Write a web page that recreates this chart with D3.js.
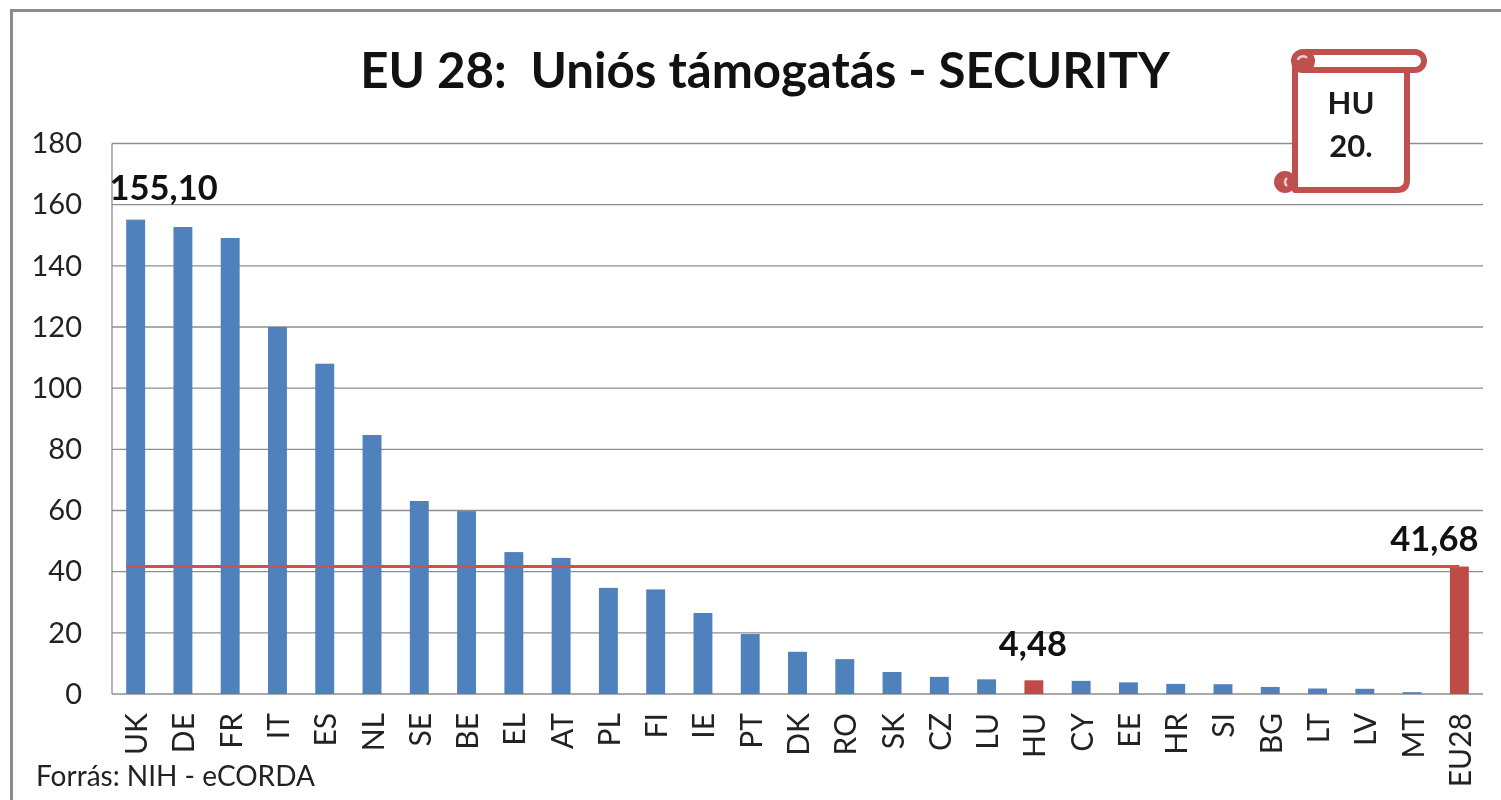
<!DOCTYPE html>
<html>
<head>
<meta charset="utf-8">
<script src="https://cdn.jsdelivr.net/npm/d3@7"></script>
<style>
body { margin: 0; background: #fff; }
svg { display: block; font-family: Lato, "Open Sans", sans-serif; filter: blur(0.5px); }
.grid line { stroke: #8e8e8e; stroke-width: 1.3; }
.axis path, .axis line { display: none; }
</style>
</head>
<body>
<script>
"use strict";

const categories = ["UK", "DE", "FR", "IT", "ES", "NL", "SE", "BE", "EL", "AT", "PL", "FI", "IE", "PT", "DK", "RO", "SK", "CZ", "LU", "HU", "CY", "EE", "HR", "SI", "BG", "LT", "LV", "MT", "EU28"];
const values = [155.1, 152.7, 149.1, 120, 108, 84.7, 63.1, 59.8, 46.4, 44.5, 34.7, 34.2, 26.5, 19.6, 13.8, 11.4, 7.2, 5.6, 4.8, 4.48, 4.3, 3.8, 3.3, 3.2, 2.3, 1.8, 1.7, 0.6, 41.68];
const yTicks = [0, 20, 40, 60, 80, 100, 120, 140, 160, 180];
const highlighted = ["HU", "EU28"];
const dataLabels = [["UK", "155,10"], ["HU", "4,48"], ["EU28", "41,68"]];
const average = 41.68;

const width = 1501, height = 800;
const margin = { top: 143.5, right: 18, bottom: 106, left: 112 };
const plotW = width - margin.left - margin.right,
      plotH = height - margin.top - margin.bottom;

const svg = d3.select("body").append("svg")
    .attr("width", width)
    .attr("height", height);

// outer frame
svg.append("path")
    .attr("d", "M11.5,800V10.5H1501")
    .attr("fill", "none")
    .attr("stroke", "#8c8c8c")
    .attr("stroke-width", 3);

// title
svg.append("text")
    .attr("x", 765)
    .attr("y", 88)
    .attr("text-anchor", "middle")
    .attr("font-size", 49.2)
    .attr("font-weight", 700)
    .attr("fill", "#111")
    .attr("xml:space", "preserve")
    .text("EU 28:  Uniós támogatás - SECURITY");

const chart = svg.append("g")
    .attr("transform", `translate(${margin.left}, ${margin.top})`);

let scaleX = d3.scaleBand()
    .domain(categories)
    .range([0, plotW])
    .paddingInner(0.6)
    .paddingOuter(0.3);

let scaleY = d3.scaleLinear()
    .domain([0, 180])
    .range([plotH, 0]);

// grid lines
chart.append("g")
    .attr("class", "grid")
    .selectAll("line")
    .data(yTicks)
    .join("line")
    .attr("x1", 0)
    .attr("x2", plotW)
    .attr("y1", d => scaleY(d))
    .attr("y2", d => scaleY(d));

chart.append("line")
    .attr("y1", 0)
    .attr("y2", plotH)
    .attr("stroke", "#8e8e8e")
    .attr("stroke-width", 1.3);

// y axis
chart.append("g")
    .attr("class", "axis")
    .call(d3.axisLeft(scaleY).tickValues(yTicks).tickSize(0).tickPadding(30))
    .selectAll("text")
    .attr("font-family", "Lato, sans-serif")
    .attr("font-size", 29)
    .attr("fill", "#222");

// x axis
chart.append("g")
    .attr("class", "axis")
    .attr("transform", `translate(0, ${plotH})`)
    .call(d3.axisBottom(scaleX).tickSize(0))
    .selectAll("text")
    .attr("font-family", "Lato, sans-serif")
    .attr("font-size", 30)
    .attr("fill", "#222")
    .attr("text-anchor", "end")
    .attr("dy", 0)
    .attr("transform", "translate(8.5, 19) rotate(-90)");

// bars
chart.selectAll("rect.bar")
    .data(categories)
    .join("rect")
    .attr("class", "bar")
    .attr("x", d => scaleX(d))
    .attr("width", scaleX.bandwidth())
    .attr("y", (d, i) => scaleY(values[i]))
    .attr("height", (d, i) => plotH - scaleY(values[i]))
    .attr("fill", d => highlighted.includes(d) ? "#be4b48" : "#4f81bd");

// average line
let line = d3.line()
    .x(d => d)
    .y(() => scaleY(average));

chart.append("path")
    .attr("d", line([scaleX("UK"), scaleX("EU28") + scaleX.bandwidth() / 2]))
    .attr("fill", "none")
    .attr("stroke", "#d0504f")
    .attr("stroke-width", 3);

// data labels, moved by hand off their bars like in the original
const labelDx = [28, -1, -25],
      labelDy = [20, 24, 16];

chart.selectAll("text.value")
    .data(dataLabels)
    .join("text")
    .attr("class", "value")
    .attr("x", (d, i) => scaleX(d[0]) + scaleX.bandwidth() / 2 + labelDx[i])
    .attr("y", (d, i) => scaleY(values[categories.indexOf(d[0])]) - labelDy[i])
    .attr("text-anchor", "middle")
    .attr("font-size", 34.5)
    .attr("font-weight", 700)
    .attr("fill", "#111")
    .text(d => d[1]);

// scroll shape with the rank of HU
const scroll = svg.append("g")
    .attr("fill", "none")
    .attr("stroke", "#c0504d")
    .attr("stroke-width", 6)
    .attr("stroke-linejoin", "round");

scroll.append("path")
    .attr("fill", "#fff")
    .attr("d", "M1295,62V190H1397Q1407,190 1407,180V70");
scroll.append("path")
    .attr("fill", "#fff")
    .attr("d", "M1304,52H1415A9,9 0 0 1 1415,70H1304A9,9 0 0 1 1304,52Z");
scroll.append("circle")
    .attr("cx", 1303)
    .attr("cy", 61)
    .attr("r", 9)
    .attr("fill", "#c0504d");
scroll.append("circle")
    .attr("cx", 1285)
    .attr("cy", 182)
    .attr("r", 8)
    .attr("fill", "#c0504d");
scroll.append("path")
    .attr("stroke", "#e3d3d2")
    .attr("stroke-width", 2.5)
    .attr("d", "M1298,60A5,4 0 0 1 1307,58");
scroll.append("path")
    .attr("stroke", "#e3d3d2")
    .attr("stroke-width", 2.5)
    .attr("d", "M1287,178A5,5 0 0 0 1287,186");

svg.selectAll("text.rank")
    .data(["HU", "20."])
    .join("text")
    .attr("class", "rank")
    .attr("x", 1351)
    .attr("y", (d, i) => 114 + i * 43)
    .attr("text-anchor", "middle")
    .attr("font-size", 31)
    .attr("font-weight", 700)
    .attr("fill", "#1a1a1a")
    .text(d => d);

// source
svg.append("text")
    .attr("x", 36)
    .attr("y", 786)
    .attr("font-size", 28)
    .attr("fill", "#222")
    .text("Forrás: NIH - eCORDA");
</script>
</body>
</html>
